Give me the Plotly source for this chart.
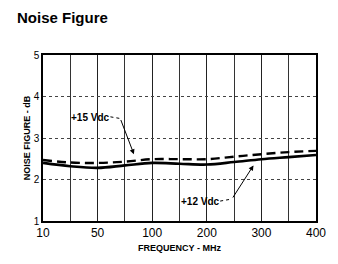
import numpy as np
import plotly.graph_objects as go

# Axis tick frequencies (non-uniform scale: each label two divisions apart)
tick_freqs = [10, 50, 100, 200, 300, 400]
tick_labels = ["10", "50", "100", "200", "300", "400"]

# Frequencies at each grid division
freq = [10, 30, 50, 75, 100, 150, 200, 250, 300, 350, 400]
nf_15v = [2.47, 2.41, 2.40, 2.43, 2.49, 2.49, 2.49, 2.55, 2.61, 2.66, 2.69]
nf_12v = [2.40, 2.32, 2.28, 2.34, 2.40, 2.38, 2.36, 2.42, 2.49, 2.54, 2.59]

grid_freqs = freq
# chart scale: piecewise mapping frequency -> division index
div_pos = list(range(len(grid_freqs)))


def xs(f):
    return np.interp(f, grid_freqs, div_pos)


FONT = "Liberation Sans, Arial, sans-serif"

fig = go.Figure()
fig.add_trace(go.Scatter(x=xs(freq), y=nf_15v, mode="lines",
                         line=dict(color="black", width=2.4, dash="9px,5px"),
                         line_shape="spline", showlegend=False))
fig.add_trace(go.Scatter(x=xs(freq), y=nf_12v, mode="lines",
                         line=dict(color="black", width=2.6),
                         line_shape="spline", showlegend=False))

# annotations
fig.add_annotation(x=1.75, y=3.49, text="<b>+15 Vdc</b>", showarrow=False,
                   font=dict(family=FONT, size=10, color="black"))
fig.add_shape(type="line", x0=2.47, y0=3.51, x1=2.83, y1=3.47,
              line=dict(color="black", width=1, dash="dot"))
fig.add_annotation(x=3.33, y=2.61, ax=2.83, ay=3.47, axref="x", ayref="y",
                   text="", showarrow=True, arrowhead=2, arrowsize=1,
                   arrowwidth=1, arrowcolor="black")

fig.add_annotation(x=5.77, y=1.48, text="<b>+12 Vdc</b>", showarrow=False,
                   font=dict(family=FONT, size=10, color="black"))
fig.add_shape(type="line", x0=6.49, y0=1.48, x1=6.92, y1=1.53,
              line=dict(color="black", width=1, dash="dot"))
fig.add_annotation(x=7.71, y=2.34, ax=6.92, ay=1.53, axref="x", ayref="y",
                   text="", showarrow=True, arrowhead=2, arrowsize=1,
                   arrowwidth=1, arrowcolor="black")

fig.update_layout(
    width=338, height=264,
    margin=dict(l=43, r=16, t=55, b=36),
    paper_bgcolor="white", plot_bgcolor="white",
    font=dict(family=FONT, color="black"),
    title=dict(text="<b>Noise Figure</b>", x=17 / 338, xanchor="left",
               y=1 - 18 / 264, yanchor="middle",
               font=dict(family=FONT, size=15, color="black")),
)
fig.update_xaxes(
    range=[0, 10], tickvals=xs(tick_freqs), ticktext=tick_labels,
    tickfont=dict(family=FONT, size=12, color="black"),
    showgrid=True, gridcolor="#222", gridwidth=1,
    showline=True, linecolor="black", linewidth=1.5, mirror=True,
    ticks="", ticklen=0,
    title=dict(text="<b>FREQUENCY - MHz</b>", standoff=6,
               font=dict(family=FONT, size=9, color="black")),
    zeroline=False,
)
fig.update_xaxes(minor=dict(showgrid=True, gridcolor="#333", gridwidth=1,
                            tickvals=list(range(11))))
fig.update_yaxes(
    range=[1, 5], tickvals=[1, 2, 3, 4, 5], ticktext=["1", "2", "3", "4", "5"],
    tickfont=dict(family=FONT, size=10, color="black"),
    showgrid=True, gridcolor="#444", gridwidth=1, griddash="dot",
    showline=True, linecolor="black", linewidth=1.5, mirror=True,
    ticks="", ticklen=0,
    title=dict(text="<b>NOISE FIGURE - dB</b>", standoff=2,
               font=dict(family=FONT, size=9, color="black")),
    zeroline=False,
)

fig.write_html("out.html", config={"displayModeBar": False},
               post_script="document.body.style.margin='0';")
